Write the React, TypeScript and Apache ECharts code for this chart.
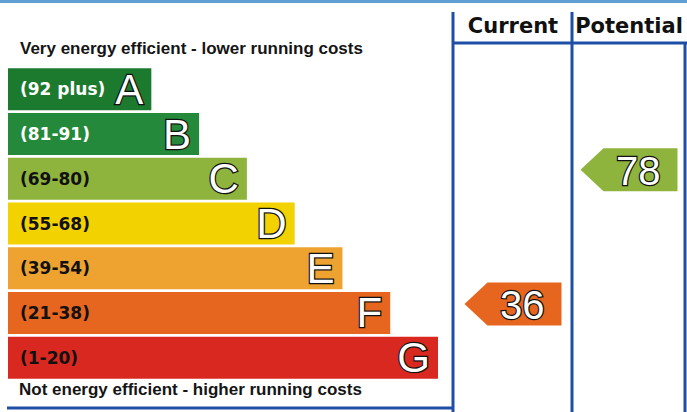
import React, { useEffect, useRef } from "react";
import * as echarts from "echarts";

// ---- data ----
const bands = ["A", "B", "C", "D", "E", "F", "G"];
const ranges = ["(92 plus)", "(81-91)", "(69-80)", "(55-68)", "(39-54)", "(21-38)", "(1-20)"];
const bandMin = [92, 81, 69, 55, 39, 21, 1];
const barLength = [3, 4, 5, 6, 7, 8, 9];
const columns = ["Current", "Potential"];
const ratings = [36, 78];
const topText = "Very energy efficient - lower running costs";
const bottomText = "Not energy efficient - higher running costs";

// ---- style ----
const bandColors = ["#1c7a2f", "#24893a", "#8fb43e", "#f2d200", "#eea331", "#e6661f", "#d9281f"];
const arrowColors = ["#8fb43e", "#e6661f"];
const rangeTextColors = ["#ffffff", "#ffffff", "#111", "#111", "#111", "#111", "#111"];
const blue = "#1f4ea6";

function bandIndex(v: number) {
  for (let i = 0; i < bandMin.length; i++) if (v >= bandMin[i]) return i;
  return bandMin.length - 1;
}

export default function App() {
  const ref = useRef<HTMLDivElement>(null);
  useEffect(() => {
    if (!ref.current) return;
    const chart = echarts.init(ref.current, null, { renderer: "svg" });
    const rangeData = bands.map((b, i) => ({
      value: barLength[i],
      itemStyle: { color: bandColors[i] },
      label: { color: rangeTextColors[i] },
    }));
    const letterData = bands.map((b, i) => ({ value: barLength[i] }));
    const arrowData = ratings.map((r, i) => [i, bandIndex(r), r]);

    chart.setOption({
      animation: false,
      backgroundColor: "#ffffff",
      grid: [
        { left: 8, top: 67, width: 430, height: 313 },
        { left: 455, top: 58, right: 0, height: 313 },
      ],
      xAxis: [
        { gridIndex: 0, type: "value", min: 0, max: 9, show: false },
        {
          gridIndex: 1,
          type: "category",
          data: columns,
          position: "top",
          axisLine: { show: false },
          axisTick: { show: false },
          splitLine: { show: false },
          axisLabel: {
            interval: 0,
            margin: 22,
            fontSize: 21,
            fontWeight: "bold",
            fontFamily: "DejaVu Sans",
            color: "#111",
          },
        },
      ],
      yAxis: [
        { gridIndex: 0, type: "category", data: bands, inverse: true, show: false },
        { gridIndex: 1, type: "category", data: bands, inverse: true, show: false },
      ],
      series: [
        {
          type: "bar",
          xAxisIndex: 0,
          yAxisIndex: 0,
          barWidth: 42,
          data: rangeData,
          label: {
            show: true,
            position: "insideLeft",
            distance: 12,
            formatter: (p: any) => ranges[p.dataIndex],
            fontFamily: "DejaVu Sans",
            fontWeight: "bold",
            fontSize: 17,
          },
        },
        {
          type: "bar",
          xAxisIndex: 0,
          yAxisIndex: 0,
          barWidth: 42,
          barGap: "-100%",
          data: letterData,
          itemStyle: { color: "transparent" },
          label: {
            show: true,
            position: "insideRight",
            distance: 8,
            formatter: (p: any) => bands[p.dataIndex],
            fontFamily: "Liberation Sans",
            fontSize: 42,
            color: "#ffffff",
            textBorderColor: "#111",
            textBorderWidth: 2.5,
          },
        },
        {
          type: "custom",
          xAxisIndex: 1,
          yAxisIndex: 1,
          data: arrowData,
          renderItem: (params: any, api: any) => {
            const col = api.value(0);
            const bi = api.value(1);
            const c = api.coord([col, bi]);
            const h = api.size([0, 1])[1] * 0.96;
            const w = 97;
            const tip = 23;
            const left = c[0] - w / 2;
            const right = c[0] + w / 2;
            const top = c[1] - h / 2;
            const bottom = c[1] + h / 2;
            return {
              type: "group",
              children: [
                {
                  type: "polygon",
                  shape: {
                    points: [
                      [left, c[1]],
                      [left + tip, top],
                      [right, top],
                      [right, bottom],
                      [left + tip, bottom],
                    ],
                  },
                  style: { fill: bandColors[bi] },
                },
                {
                  type: "text",
                  style: {
                    text: String(api.value(2)),
                    x: right - 17,
                    y: c[1] + 1,
                    align: "right",
                    verticalAlign: "middle",
                    font: '40px "Liberation Sans"',
                    fill: "#ffffff",
                    stroke: "#111",
                    lineWidth: 2.5,
                  },
                },
              ],
            };
          },
        },
      ],
      graphic: [
        { type: "rect", left: 0, top: 0, shape: { width: 687, height: 3 }, style: { fill: "#5f9fd4" } },
        { type: "line", shape: { x1: 453, y1: 12, x2: 453, y2: 412 }, style: { stroke: blue, lineWidth: 3 } },
        { type: "line", shape: { x1: 572, y1: 12, x2: 572, y2: 412 }, style: { stroke: blue, lineWidth: 3 } },
        { type: "line", shape: { x1: 685, y1: 44, x2: 685, y2: 412 }, style: { stroke: blue, lineWidth: 3 } },
        { type: "line", shape: { x1: 452, y1: 43, x2: 687, y2: 43 }, style: { stroke: blue, lineWidth: 3 } },
        { type: "line", shape: { x1: 7, y1: 408, x2: 453, y2: 408 }, style: { stroke: blue, lineWidth: 3 } },
        {
          type: "text",
          left: 20,
          top: 40,
          style: { text: topText, font: 'bold 17px "Liberation Sans"', fill: "#151515" },
        },
        {
          type: "text",
          left: 19,
          top: 381,
          style: { text: bottomText, font: 'bold 17px "Liberation Sans"', fill: "#151515" },
        },
      ],
    });
    return () => chart.dispose();
  }, []);
  return (
    <div
      ref={ref}
      style={{ position: "fixed", left: 0, top: 0, width: 687, height: 412 }}
    />
  );
}
